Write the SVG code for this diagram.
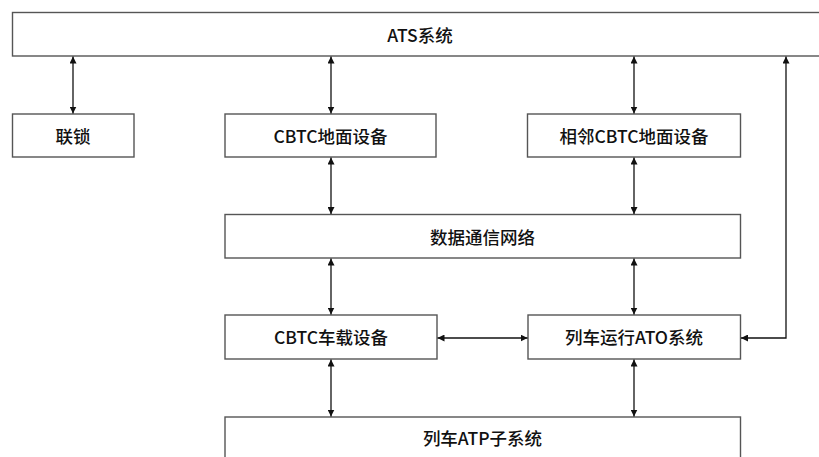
<svg xmlns="http://www.w3.org/2000/svg" width="819" height="457" viewBox="0 0 819 457">
<defs>
<style>
.box{fill:#fff;stroke:#555;stroke-width:1.4}
.lbl{font-family:"Noto Sans CJK SC","Noto Sans",sans-serif;font-size:17.5px;font-weight:500;fill:#111;text-anchor:middle;dominant-baseline:central}
.ln{stroke:#111;stroke-width:1.3;fill:none}
</style>
<marker id="ah" viewBox="0 0 10 10" refX="10" refY="5" markerWidth="7" markerHeight="7" markerUnits="userSpaceOnUse" orient="auto-start-reverse">
<path d="M0,0 L10,5 L0,10 Z" fill="#111"/>
</marker>
</defs>
<rect width="819" height="457" fill="#fff"/>
<g id="ats"><rect class="box" x="12.5" y="12.5" width="812" height="43.5"/><text class="lbl" x="420" y="34.5">ATS系统</text></g>
<g id="liansuo"><rect class="box" x="12.5" y="114" width="121.5" height="43"/><text class="lbl" x="73" y="135.5">联锁</text></g>
<g id="cbtc-ground"><rect class="box" x="225" y="114" width="211" height="43"/><text class="lbl" x="330.5" y="135.5">CBTC地面设备</text></g>
<g id="adj-cbtc"><rect class="box" x="527.5" y="114" width="213" height="43"/><text class="lbl" x="634" y="135.5">相邻CBTC地面设备</text></g>
<g id="dcs"><rect class="box" x="225" y="214.5" width="515.5" height="43.5"/><text class="lbl" x="482.5" y="236.5">数据通信网络</text></g>
<g id="cbtc-onboard"><rect class="box" x="225" y="315" width="212" height="44"/><text class="lbl" x="331" y="336.5">CBTC车载设备</text></g>
<g id="ato"><rect class="box" x="528" y="315" width="212.5" height="44"/><text class="lbl" x="634" y="336.5">列车运行ATO系统</text></g>
<g id="atp"><rect class="box" x="225" y="417" width="515.5" height="60"/><text class="lbl" x="482.5" y="437.5">列车ATP子系统</text></g>
<g id="connectors">
<line class="ln" x1="73" y1="56.5" x2="73" y2="113.5" marker-start="url(#ah)" marker-end="url(#ah)"/>
<line class="ln" x1="331" y1="56.5" x2="331" y2="113.5" marker-start="url(#ah)" marker-end="url(#ah)"/>
<line class="ln" x1="634" y1="56.5" x2="634" y2="113.5" marker-start="url(#ah)" marker-end="url(#ah)"/>
<line class="ln" x1="331" y1="157.5" x2="331" y2="214" marker-start="url(#ah)" marker-end="url(#ah)"/>
<line class="ln" x1="634" y1="157.5" x2="634" y2="214" marker-start="url(#ah)" marker-end="url(#ah)"/>
<line class="ln" x1="331" y1="258.5" x2="331" y2="314.5" marker-start="url(#ah)" marker-end="url(#ah)"/>
<line class="ln" x1="634" y1="258.5" x2="634" y2="314.5" marker-start="url(#ah)" marker-end="url(#ah)"/>
<line class="ln" x1="331" y1="359.5" x2="331" y2="416.5" marker-start="url(#ah)" marker-end="url(#ah)"/>
<line class="ln" x1="634" y1="359.5" x2="634" y2="416.5" marker-start="url(#ah)" marker-end="url(#ah)"/>
<line class="ln" x1="437.5" y1="338" x2="527.5" y2="338" marker-start="url(#ah)" marker-end="url(#ah)"/>
<polyline class="ln" points="786,56.5 786,338 741,338" marker-start="url(#ah)" marker-end="url(#ah)"/>
</g>
</svg>
